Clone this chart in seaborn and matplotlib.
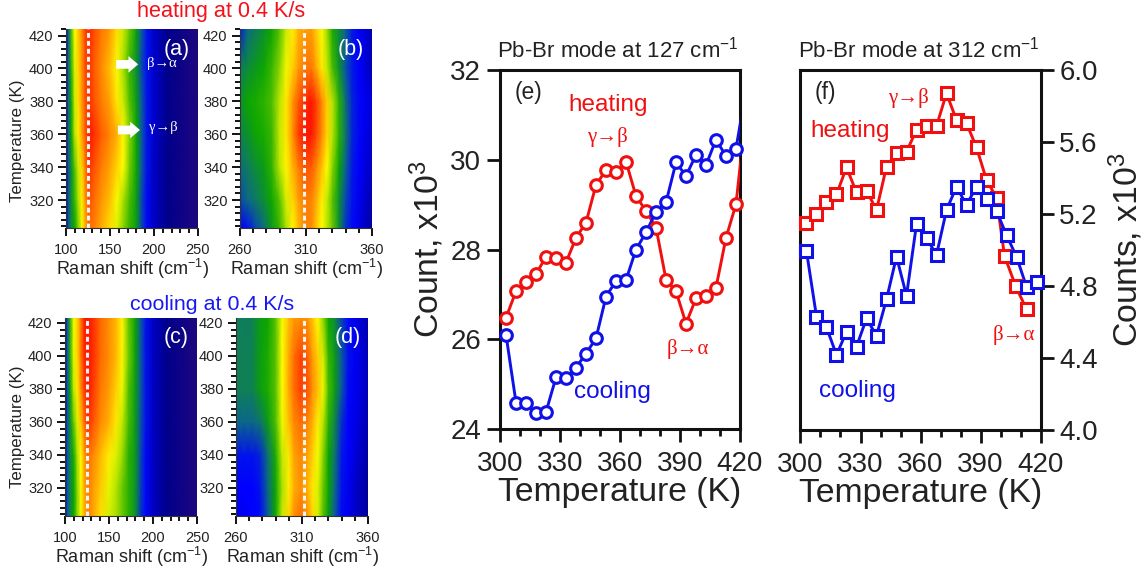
import numpy as np
import pandas as pd
import matplotlib
matplotlib.use("Agg")
import matplotlib.pyplot as plt
from matplotlib.colors import LinearSegmentedColormap
from matplotlib.ticker import MultipleLocator
import seaborn as sns

# ---------- data: line panels ----------
temp_e = [303, 308, 313, 318, 323, 328, 333, 338, 343, 348, 353, 358, 363, 368, 373, 378,
          383, 388, 393, 398, 403, 408, 413, 418, 423]
heat_e = [26.48, 27.07, 27.27, 27.45, 27.84, 27.81, 27.71, 28.26, 28.60, 29.44, 29.77, 29.72, 29.96,
          29.19, 28.86, 28.49, 27.33, 27.07, 26.35, 26.91, 26.97, 27.15, 28.26, 29.01, 31.06]
cool_e = [26.10, 24.59, 24.57, 24.35, 24.38, 25.15, 25.13, 25.37, 25.68, 26.02, 26.95, 27.30, 27.32,
          28.00, 28.38, 28.84, 29.05, 29.94, 29.64, 30.11, 29.88, 30.45, 30.08, 30.25, 31.55]

temp_f_heat = [303, 308, 313, 318, 323, 328, 333, 338, 343, 348, 353, 358, 363, 368, 373, 378,
               383, 388, 393, 398, 402, 407.5, 413]
heat_f = [5.152, 5.198, 5.265, 5.309, 5.459, 5.320, 5.330, 5.222, 5.463, 5.537, 5.546, 5.667, 5.689,
          5.689, 5.870, 5.722, 5.704, 5.570, 5.389, 5.291, 4.967, 4.802, 4.670]
temp_f_cool = [303, 308, 313, 318, 323, 328, 333, 338, 343, 348, 353, 358, 363, 368, 373, 378,
               383, 388, 393, 398, 403, 408, 413, 418]
cool_f = [4.993, 4.630, 4.570, 4.417, 4.546, 4.463, 4.620, 4.524, 4.726, 4.963, 4.746, 5.143, 5.067,
          4.972, 5.222, 5.352, 5.250, 5.352, 5.283, 5.217, 5.083, 4.963, 4.796, 4.824]

map_temps = [303, 320, 340, 360, 380, 400, 424]
shift_low = [100, 103, 106, 110, 114, 118, 122, 126, 132, 140, 150, 158, 165, 172, 180, 186, 192, 200, 215, 235, 250]
shift_high = [260, 266, 272, 278, 284, 290, 295, 300, 304, 309, 314, 318, 322, 326, 330, 335, 340, 345, 350, 355, 360]

map_a = [
    [1.5, 3.0, 4.3, 5.0, 5.7, 6.8, 8.0, 9.0, 8.8, 8.1, 7.4, 6.6, 5.8, 5.3, 4.8, 2.8, 2.1, 1.5, 1.0, 0.6, 0.3],
    [1.5, 3.0, 4.5, 5.3, 6.0, 7.2, 8.4, 9.4, 9.0, 8.4, 7.8, 6.9, 6.0, 5.4, 4.8, 2.8, 2.1, 1.5, 1.0, 0.6, 0.3],
    [1.5, 3.0, 4.5, 5.5, 6.4, 7.5, 8.8, 9.7, 9.3, 8.8, 8.2, 7.5, 7.0, 5.7, 5.0, 3.0, 2.2, 1.5, 1.0, 0.6, 0.3],
    [1.7, 3.4, 5.0, 6.2, 7.2, 8.2, 9.2, 10.0, 9.7, 9.2, 8.6, 8.0, 7.1, 5.8, 5.0, 3.0, 2.2, 1.6, 1.0, 0.6, 0.3],
    [1.7, 3.4, 5.0, 6.4, 7.4, 8.3, 9.3, 9.7, 9.3, 8.8, 8.2, 7.3, 6.4, 5.5, 4.8, 3.0, 2.2, 1.6, 1.0, 0.6, 0.3],
    [1.7, 3.4, 5.2, 6.6, 7.5, 8.4, 9.4, 9.7, 9.2, 8.6, 7.8, 6.9, 6.0, 5.3, 4.5, 2.8, 2.2, 1.6, 1.0, 0.6, 0.3],
    [1.7, 3.4, 5.4, 7.0, 7.7, 8.5, 9.5, 9.8, 9.4, 8.9, 8.3, 7.4, 6.4, 5.6, 4.9, 3.0, 2.2, 1.6, 1.0, 0.6, 0.3],
]
map_b = [
    [2.0, 2.2, 2.8, 3.5, 4.7, 5.3, 6.0, 7.1, 7.8, 8.7, 8.6, 7.7, 7.0, 6.2, 5.6, 4.5, 2.6, 2.1, 1.8, 1.5, 1.2],
    [2.8, 3.4, 3.9, 4.4, 5.0, 5.5, 6.5, 7.5, 8.2, 8.8, 8.7, 8.0, 7.2, 6.3, 5.5, 4.5, 2.8, 2.2, 1.9, 1.6, 1.3],
    [3.5, 4.0, 4.4, 4.8, 5.2, 6.2, 7.1, 8.0, 8.7, 9.3, 9.2, 8.6, 7.8, 7.0, 5.8, 5.0, 3.2, 2.3, 2.0, 1.7, 1.5],
    [4.2, 4.5, 5.0, 5.1, 5.3, 6.3, 7.3, 8.5, 9.5, 10.0, 10.0, 9.4, 8.6, 7.5, 6.2, 5.2, 3.8, 2.4, 2.1, 1.8, 1.6],
    [4.5, 5.0, 5.1, 5.2, 5.4, 6.2, 7.3, 8.4, 9.2, 9.7, 10.0, 9.5, 8.6, 7.6, 6.2, 5.2, 3.6, 2.4, 2.1, 1.9, 1.7],
    [4.0, 4.4, 4.7, 5.0, 5.3, 5.8, 6.8, 7.6, 8.3, 8.9, 8.9, 8.1, 7.3, 6.3, 5.4, 4.6, 2.9, 2.3, 2.0, 1.7, 1.4],
    [2.3, 3.5, 4.0, 4.5, 5.0, 5.5, 6.4, 7.2, 7.9, 8.3, 8.3, 7.6, 6.9, 5.9, 5.1, 4.3, 3.2, 2.3, 2.0, 1.7, 1.3],
]
map_c = [
    [1.5, 3.0, 4.2, 5.0, 5.8, 6.8, 8.0, 8.7, 8.2, 7.4, 6.5, 6.0, 5.6, 5.2, 4.5, 2.6, 2.1, 1.5, 1.0, 0.6, 0.3],
    [1.5, 3.0, 4.2, 5.0, 5.8, 6.9, 8.1, 8.8, 8.3, 7.7, 6.7, 6.1, 5.6, 5.2, 4.6, 2.7, 2.1, 1.5, 1.0, 0.6, 0.3],
    [1.5, 3.0, 4.3, 5.1, 6.0, 7.0, 8.3, 9.0, 8.6, 7.9, 7.2, 6.6, 5.9, 5.2, 4.7, 2.8, 2.1, 1.5, 1.0, 0.6, 0.3],
    [1.5, 3.0, 4.6, 5.6, 6.6, 7.7, 9.0, 9.7, 9.3, 8.6, 8.0, 7.3, 6.3, 5.4, 4.7, 2.9, 2.2, 1.5, 1.0, 0.6, 0.3],
    [1.6, 3.1, 5.0, 6.3, 7.3, 8.5, 9.6, 10.0, 9.6, 8.9, 8.3, 7.6, 6.8, 5.5, 4.8, 3.0, 2.2, 1.5, 1.0, 0.6, 0.3],
    [1.7, 3.2, 5.2, 6.7, 7.5, 8.8, 9.8, 10.0, 9.7, 9.1, 8.5, 7.9, 7.1, 5.7, 4.9, 3.0, 2.2, 1.5, 1.0, 0.6, 0.3],
    [1.7, 3.2, 5.3, 6.9, 7.6, 8.8, 9.9, 10.0, 9.7, 9.1, 8.5, 7.9, 7.1, 5.6, 4.9, 3.0, 2.2, 1.5, 1.0, 0.6, 0.3],
]
map_d = [
    [1.8, 1.9, 2.0, 2.1, 3.0, 5.0, 6.3, 7.5, 8.5, 9.0, 8.5, 7.5, 6.5, 5.5, 4.8, 3.0, 2.1, 1.9, 1.6, 1.4, 1.1],
    [2.0, 2.0, 2.0, 2.2, 3.3, 5.0, 6.0, 7.2, 8.0, 8.5, 8.0, 7.3, 6.6, 5.6, 5.0, 3.3, 2.2, 1.9, 1.6, 1.4, 1.1],
    [2.2, 2.2, 2.2, 2.4, 3.6, 5.1, 6.3, 7.3, 8.2, 8.6, 8.2, 7.6, 6.9, 5.8, 5.0, 3.7, 2.3, 2.0, 1.7, 1.5, 1.2],
    [3.3, 3.3, 3.3, 3.7, 4.7, 5.4, 6.8, 7.8, 8.6, 9.0, 8.7, 8.0, 7.2, 6.2, 5.2, 4.2, 2.5, 2.0, 1.8, 1.6, 1.3],
    [4.1, 4.1, 4.1, 4.8, 5.1, 5.5, 7.0, 8.1, 9.0, 9.5, 9.3, 8.5, 7.8, 6.8, 5.4, 4.8, 3.0, 2.1, 1.9, 1.7, 1.4],
    [4.1, 4.1, 4.1, 4.8, 5.1, 5.5, 7.0, 8.1, 9.0, 9.5, 9.2, 8.3, 7.6, 6.5, 5.3, 4.7, 3.0, 2.2, 1.9, 1.7, 1.4],
    [4.0, 4.0, 4.1, 4.8, 5.0, 5.5, 6.9, 7.8, 8.3, 8.4, 8.4, 7.7, 7.0, 5.8, 5.0, 4.3, 2.7, 2.1, 1.9, 1.6, 1.3],
]
level_colors = ['#2b0a7a', '#00008c', '#0000ff', '#0b5c9c', '#0f7d5c', '#0aa500',
                '#aadf00', '#ffff00', '#ffb000', '#ff7000', '#ff1500']

# ---------- style ----------
sns.set_theme(style="ticks")
plt.rcParams['font.family'] = ['Liberation Sans', 'DejaVu Sans']
plt.rcParams['mathtext.fontset'] = 'custom'
plt.rcParams['mathtext.rm'] = 'Liberation Sans'
plt.rcParams['mathtext.default'] = 'regular'

W, H = 1144, 571
fig = plt.figure(figsize=(W / 100, H / 100), dpi=100)
cmap = LinearSegmentedColormap.from_list("raman", level_colors)
INK = '#222222'
RED, BLUE = '#f01010', '#1010e8'
SERIF = ['Liberation Serif', 'DejaVu Serif']


def axes_px(left, top, right, bottom):
    return fig.add_axes([left / W, 1 - bottom / H, (right - left) / W, (bottom - top) / H])


def label(x, y, s, size, color=INK, **kw):
    fig.text(x / W, 1 - y / H, s, fontsize=size, color=color, ha='center', va='center', **kw)


def map_panel(box, shifts, grid, xlim, ylim, xticks, dash, tag, tag_xy, ylabel_xy=None):
    ax = axes_px(*box)
    ax.pcolormesh(shifts, map_temps, np.array(grid), cmap=cmap, vmin=0, vmax=10, shading='gouraud', rasterized=True)
    ax.set_xlim(*xlim)
    ax.set_ylim(*ylim)
    ax.axvline(dash, color='#f4f4f4', lw=2.2, ls=(0, (1.6, 1.0)))
    ax.set_xticks(xticks)
    ax.xaxis.set_minor_locator(MultipleLocator(10))
    ax.yaxis.set_major_locator(MultipleLocator(20))
    ax.yaxis.set_minor_locator(MultipleLocator(4))
    ax.tick_params(which='major', length=6, width=1.4, labelsize=10.5, labelcolor=INK, pad=3, color='#111111')
    ax.tick_params(axis='x', which='major', pad=4.5)
    ax.tick_params(which='minor', length=3.5, width=1.4, color='#111111')
    for side in ax.spines.values():
        side.set_linewidth(0.8)
        side.set_color('#333333')
    ax.spines['top'].set_visible(False)
    ax.spines['right'].set_visible(False)
    ax.set_xlabel('Raman shift (cm$^{-1}$)', fontsize=13, color=INK, labelpad=0)
    if ylabel_xy:
        label(*ylabel_xy, 'Temperature (K)', 12.2, rotation=90)
    label(*tag_xy, tag, 15.5, color='white')
    return ax


ax_a = map_panel((66, 29, 198, 228), shift_low, map_a, (100, 250), (303, 424), [100, 150, 200, 250], 125, '(a)', (177, 49), (18, 141))
ax_b = map_panel((240, 29, 372, 228), shift_high, map_b, (260, 360), (303, 424), [260, 310, 360], 308.7, '(b)', (351, 49))
ax_c = map_panel((65, 318, 197, 516), shift_low, map_c, (100, 250), (303, 423), [100, 150, 200, 250], 125.4, '(c)', (176, 337), (18, 427))
ax_d = map_panel((236, 318, 368, 516), shift_high, map_d, (260, 360), (303, 423), [260, 310, 360], 311.5, '(d)', (348, 337))

for y_t, x0, x1 in [(402.5, 157, 182), (362.6, 159, 184)]:
    ax_a.annotate('', xy=(x1, y_t), xytext=(x0, y_t),
                  arrowprops=dict(arrowstyle='simple,head_width=0.85,head_length=0.5,tail_width=0.45', color='white',
                                  lw=0, shrinkA=0, shrinkB=0, mutation_scale=14))
label(162, 64, 'β→α', 10.5, color='white', family=SERIF)
label(163, 127, 'γ→β', 10.5, color='white', family=SERIF)
label(221, 11, 'heating at 0.4 K/s', 15.6, color='#f5101a')
label(212, 305, 'cooling at 0.4 K/s', 15.4, color='#1818f0')


def series(ax, t, v, color, marker, tail=False):
    sns.lineplot(x=t, y=v, ax=ax, color=color, linewidth=2.1, sort=False, errorbar=None, zorder=3)
    mt, mv = (t[:-1], v[:-1]) if tail else (t, v)
    sns.lineplot(x=mt, y=mv, ax=ax, color=color, linestyle='', sort=False, errorbar=None, marker=marker,
                 markersize=8.4, markeredgewidth=2.2, markerfacecolor='white', markeredgecolor=color,
                 clip_on=False, zorder=4)


def line_frame(ax, ylim, ystep, title, title_xy):
    ax.set_xlim(300, 420)
    ax.set_ylim(*ylim)
    ax.xaxis.set_major_locator(MultipleLocator(30))
    ax.xaxis.set_minor_locator(MultipleLocator(10))
    ax.yaxis.set_major_locator(MultipleLocator(ystep))
    ax.tick_params(which='major', length=9.5, width=2, labelsize=20, labelcolor=INK, pad=4, color='#111111')
    ax.tick_params(axis='x', which='major', pad=6.5)
    ax.tick_params(which='minor', length=5, width=2, color='#111111')
    for side in ax.spines.values():
        side.set_linewidth(2.2)
        side.set_color('#111111')
    ax.set_xlabel('Temperature (K)', fontsize=24.3, color=INK, labelpad=0)
    label(*title_xy, title, 16, color=INK)


ax_e = axes_px(500, 70, 740, 429)
series(ax_e, temp_e, heat_e, RED, 'o', tail=True)
series(ax_e, temp_e, cool_e, BLUE, 'o', tail=True)
line_frame(ax_e, (24, 32), 2, 'Pb-Br mode at 127 cm$^{-1}$', (618, 50))
ax_e.set_ylabel('Count, x10$^{3}$', fontsize=24.3, color=INK, labelpad=3)

ax_f = axes_px(800.5, 70, 1040.5, 430)
series(ax_f, temp_f_heat, heat_f, RED, 's')
series(ax_f, temp_f_cool, cool_f, BLUE, 's')
line_frame(ax_f, (4.0, 6.0), 0.4, 'Pb-Br mode at 312 cm$^{-1}$', (919, 50))
ax_f.yaxis.tick_right()
ax_f.yaxis.set_label_position('right')
ax_f.set_ylabel('Counts, x10$^{3}$', fontsize=24.3, color=INK, labelpad=6)
ax_f.tick_params(axis='y', which='both', left=False)

label(528, 92, '(e)', 16.5)
label(608, 105, 'heating', 17.5, color=RED)
label(607, 137, 'γ→β', 15, color=RED, family=SERIF)
label(688, 349, 'β→α', 15, color=RED, family=SERIF)
label(612, 392, 'cooling', 17.5, color=BLUE)
label(825, 93, '(f)', 16.5)
label(908, 98, 'γ→β', 15, color=RED, family=SERIF)
label(850, 131, 'heating', 17.5, color=RED)
label(857, 391, 'cooling', 17.5, color=BLUE)
label(1014, 335, 'β→α', 15, color=RED, family=SERIF)

fig.savefig('out.png', dpi=100, facecolor='white')
